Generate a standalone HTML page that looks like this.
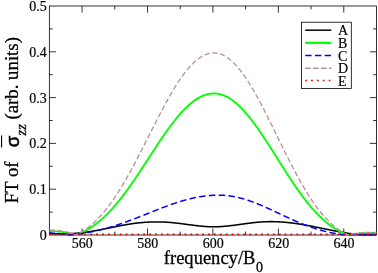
<!DOCTYPE html>
<html><head><meta charset="utf-8"><title>plot</title>
<style>html,body{margin:0;padding:0;background:#fff}svg{display:block}</style>
</head><body>
<svg width="378" height="273" viewBox="0 0 378 273">
<defs><filter id="bl" x="0" y="0" width="100%" height="100%" filterUnits="userSpaceOnUse"><feGaussianBlur stdDeviation="0.35"/></filter></defs>
<rect x="0" y="0" width="378" height="273" fill="#fff"/>
<g filter="url(#bl)">
<rect x="0" y="0" width="378" height="273" fill="#fff"/>
<path d="M82.06,235.00v-6.60M82.06,6.00v6.60M114.78,235.00v-3.40M114.78,6.00v3.40M147.50,235.00v-6.60M147.50,6.00v6.60M180.21,235.00v-3.40M180.21,6.00v3.40M212.92,235.00v-6.60M212.92,6.00v6.60M245.64,235.00v-3.40M245.64,6.00v3.40M278.35,235.00v-6.60M278.35,6.00v6.60M311.07,235.00v-3.40M311.07,6.00v3.40M343.79,235.00v-6.60M343.79,6.00v6.60M49.35,212.10h3.40M376.50,212.10h-3.40M49.35,189.20h6.60M376.50,189.20h-6.60M49.35,166.30h3.40M376.50,166.30h-3.40M49.35,143.40h6.60M376.50,143.40h-6.60M49.35,120.50h3.40M376.50,120.50h-3.40M49.35,97.60h6.60M376.50,97.60h-6.60M49.35,74.70h3.40M376.50,74.70h-3.40M49.35,51.80h6.60M376.50,51.80h-6.60M49.35,28.90h3.40M376.50,28.90h-3.40" fill="none" stroke="#000" stroke-width="0.8"/>
<rect x="49.35" y="6.00" width="327.15" height="229.00" fill="none" stroke="#000" stroke-width="0.8"/>
<clipPath id="c"><rect x="49.35" y="6.00" width="327.15" height="230.00"/></clipPath>
<g clip-path="url(#c)" fill="none" stroke-linejoin="round">
<path d="M49.35,233.46L49.76,233.49L50.17,233.52L50.58,233.54L50.99,233.57L51.39,233.59L51.80,233.61L52.21,233.63L52.62,233.65L53.03,233.67L53.44,233.69L53.85,233.71L54.26,233.73L54.67,233.74L55.08,233.76L55.48,233.77L55.89,233.79L56.30,233.80L56.71,233.81L57.12,233.82L57.53,233.83L57.94,233.84L58.35,233.84L58.76,233.85L59.16,233.86L59.57,233.86L59.98,233.86L60.39,233.87L60.80,233.87L61.21,233.87L61.62,233.87L62.03,233.87L62.44,233.86L62.84,233.86L63.25,233.86L63.66,233.85L64.07,233.84L64.48,233.84L64.89,233.83L65.30,233.82L65.71,233.81L66.12,233.80L66.53,233.79L66.93,233.77L67.34,233.76L67.75,233.75L68.16,233.73L68.57,233.71L68.98,233.70L69.39,233.68L69.80,233.66L70.21,233.64L70.61,233.62L71.02,233.60L71.43,233.57L71.84,233.55L72.25,233.52L72.66,233.50L73.07,233.47L73.48,233.44L73.89,233.41L74.30,233.39L74.70,233.36L75.11,233.32L75.52,233.29L75.93,233.26L76.34,233.22L76.75,233.19L77.16,233.15L77.57,233.12L77.98,233.08L78.38,233.04L78.79,233.00L79.20,232.96L79.61,232.92L80.02,232.88L80.43,232.83L80.84,232.79L81.25,232.75L81.66,232.70L82.06,232.65L82.47,232.61L82.88,232.56L83.29,232.51L83.70,232.46L84.11,232.41L84.52,232.36L84.93,232.30L85.34,232.25L85.75,232.19L86.15,232.14L86.56,232.08L86.97,232.02L87.38,231.97L87.79,231.91L88.20,231.85L88.61,231.79L89.02,231.73L89.43,231.66L89.83,231.60L90.24,231.54L90.65,231.47L91.06,231.41L91.47,231.34L91.88,231.27L92.29,231.20L92.70,231.13L93.11,231.07L93.52,231.00L93.92,230.92L94.33,230.85L94.74,230.78L95.15,230.71L95.56,230.64L95.97,230.56L96.38,230.49L96.79,230.41L97.20,230.34L97.60,230.26L98.01,230.18L98.42,230.11L98.83,230.03L99.24,229.95L99.65,229.87L100.06,229.79L100.47,229.71L100.88,229.64L101.29,229.56L101.69,229.48L102.10,229.39L102.51,229.31L102.92,229.23L103.33,229.15L103.74,229.07L104.15,228.99L104.56,228.90L104.97,228.82L105.37,228.74L105.78,228.66L106.19,228.57L106.60,228.49L107.01,228.41L107.42,228.32L107.83,228.24L108.24,228.16L108.65,228.07L109.05,227.99L109.46,227.90L109.87,227.82L110.28,227.74L110.69,227.65L111.10,227.57L111.51,227.49L111.92,227.40L112.33,227.32L112.74,227.23L113.14,227.15L113.55,227.07L113.96,226.99L114.37,226.90L114.78,226.82L115.19,226.74L115.60,226.65L116.01,226.57L116.42,226.49L116.82,226.41L117.23,226.33L117.64,226.25L118.05,226.17L118.46,226.09L118.87,226.01L119.28,225.93L119.69,225.85L120.10,225.77L120.51,225.69L120.91,225.61L121.32,225.53L121.73,225.46L122.14,225.38L122.55,225.31L122.96,225.23L123.37,225.15L123.78,225.08L124.19,225.01L124.59,224.93L125.00,224.86L125.41,224.79L125.82,224.72L126.23,224.65L126.64,224.58L127.05,224.51L127.46,224.44L127.87,224.37L128.27,224.30L128.68,224.24L129.09,224.17L129.50,224.11L129.91,224.04L130.32,223.98L130.73,223.92L131.14,223.85L131.55,223.79L131.96,223.73L132.36,223.67L132.77,223.62L133.18,223.56L133.59,223.50L134.00,223.45L134.41,223.39L134.82,223.34L135.23,223.29L135.64,223.24L136.04,223.19L136.45,223.14L136.86,223.09L137.27,223.04L137.68,222.99L138.09,222.95L138.50,222.90L138.91,222.86L139.32,222.82L139.73,222.78L140.13,222.74L140.54,222.70L140.95,222.66L141.36,222.62L141.77,222.58L142.18,222.55L142.59,222.51L143.00,222.48L143.41,222.44L143.81,222.41L144.22,222.38L144.63,222.35L145.04,222.32L145.45,222.29L145.86,222.27L146.27,222.24L146.68,222.22L147.09,222.19L147.50,222.17L147.90,222.15L148.31,222.13L148.72,222.11L149.13,222.09L149.54,222.07L149.95,222.05L150.36,222.03L150.77,222.02L151.18,222.01L151.58,221.99L151.99,221.98L152.40,221.97L152.81,221.96L153.22,221.95L153.63,221.94L154.04,221.93L154.45,221.93L154.86,221.92L155.26,221.92L155.67,221.91L156.08,221.91L156.49,221.91L156.90,221.91L157.31,221.91L157.72,221.91L158.13,221.92L158.54,221.92L158.95,221.92L159.35,221.93L159.76,221.94L160.17,221.95L160.58,221.95L160.99,221.96L161.40,221.98L161.81,221.99L162.22,222.00L162.63,222.01L163.03,222.03L163.44,222.05L163.85,222.06L164.26,222.08L164.67,222.10L165.08,222.12L165.49,222.14L165.90,222.16L166.31,222.19L166.72,222.21L167.12,222.24L167.53,222.26L167.94,222.29L168.35,222.32L168.76,222.35L169.17,222.38L169.58,222.41L169.99,222.44L170.40,222.48L170.80,222.51L171.21,222.55L171.62,222.58L172.03,222.62L172.44,222.66L172.85,222.70L173.26,222.74L173.67,222.78L174.08,222.82L174.48,222.86L174.89,222.91L175.30,222.95L175.71,223.00L176.12,223.04L176.53,223.09L176.94,223.14L177.35,223.18L177.76,223.23L178.17,223.28L178.57,223.33L178.98,223.38L179.39,223.43L179.80,223.48L180.21,223.53L180.62,223.58L181.03,223.63L181.44,223.69L181.85,223.74L182.25,223.79L182.66,223.85L183.07,223.90L183.48,223.95L183.89,224.01L184.30,224.06L184.71,224.11L185.12,224.17L185.53,224.22L185.94,224.28L186.34,224.33L186.75,224.39L187.16,224.44L187.57,224.50L187.98,224.55L188.39,224.61L188.80,224.66L189.21,224.72L189.62,224.77L190.02,224.82L190.43,224.88L190.84,224.93L191.25,224.98L191.66,225.04L192.07,225.09L192.48,225.14L192.89,225.19L193.30,225.25L193.70,225.30L194.11,225.35L194.52,225.40L194.93,225.45L195.34,225.50L195.75,225.55L196.16,225.60L196.57,225.64L196.98,225.69L197.39,225.74L197.79,225.78L198.20,225.83L198.61,225.87L199.02,225.92L199.43,225.96L199.84,226.00L200.25,226.05L200.66,226.09L201.07,226.13L201.47,226.17L201.88,226.20L202.29,226.24L202.70,226.28L203.11,226.31L203.52,226.35L203.93,226.38L204.34,226.41L204.75,226.44L205.16,226.47L205.56,226.50L205.97,226.53L206.38,226.56L206.79,226.58L207.20,226.61L207.61,226.63L208.02,226.65L208.43,226.67L208.84,226.69L209.24,226.71L209.65,226.72L210.06,226.74L210.47,226.75L210.88,226.76L211.29,226.77L211.70,226.78L212.11,226.79L212.52,226.80L212.92,226.80L213.33,226.80L213.74,226.80L214.15,226.80L214.56,226.80L214.97,226.80L215.38,226.79L215.79,226.78L216.20,226.77L216.61,226.76L217.01,226.75L217.42,226.74L217.83,226.72L218.24,226.71L218.65,226.69L219.06,226.67L219.47,226.65L219.88,226.63L220.29,226.61L220.69,226.58L221.10,226.56L221.51,226.53L221.92,226.50L222.33,226.47L222.74,226.44L223.15,226.41L223.56,226.38L223.97,226.34L224.38,226.31L224.78,226.27L225.19,226.24L225.60,226.20L226.01,226.16L226.42,226.12L226.83,226.08L227.24,226.04L227.65,226.00L228.06,225.95L228.46,225.91L228.87,225.87L229.28,225.82L229.69,225.77L230.10,225.73L230.51,225.68L230.92,225.63L231.33,225.58L231.74,225.53L232.15,225.48L232.55,225.43L232.96,225.38L233.37,225.33L233.78,225.28L234.19,225.22L234.60,225.17L235.01,225.12L235.42,225.06L235.83,225.01L236.23,224.95L236.64,224.90L237.05,224.84L237.46,224.79L237.87,224.73L238.28,224.68L238.69,224.62L239.10,224.56L239.51,224.51L239.91,224.45L240.32,224.39L240.73,224.34L241.14,224.28L241.55,224.22L241.96,224.16L242.37,224.11L242.78,224.05L243.19,223.99L243.60,223.94L244.00,223.88L244.41,223.83L244.82,223.77L245.23,223.71L245.64,223.66L246.05,223.60L246.46,223.55L246.87,223.49L247.28,223.44L247.68,223.38L248.09,223.33L248.50,223.28L248.91,223.22L249.32,223.17L249.73,223.12L250.14,223.07L250.55,223.02L250.96,222.97L251.37,222.92L251.77,222.87L252.18,222.82L252.59,222.77L253.00,222.72L253.41,222.68L253.82,222.63L254.23,222.58L254.64,222.54L255.05,222.50L255.45,222.45L255.86,222.41L256.27,222.37L256.68,222.33L257.09,222.29L257.50,222.25L257.91,222.22L258.32,222.18L258.73,222.14L259.13,222.11L259.54,222.08L259.95,222.05L260.36,222.01L260.77,221.98L261.18,221.96L261.59,221.93L262.00,221.90L262.41,221.88L262.82,221.85L263.22,221.83L263.63,221.81L264.04,221.79L264.45,221.77L264.86,221.75L265.27,221.74L265.68,221.72L266.09,221.71L266.50,221.70L266.90,221.68L267.31,221.67L267.72,221.66L268.13,221.66L268.54,221.65L268.95,221.64L269.36,221.64L269.77,221.64L270.18,221.63L270.59,221.63L270.99,221.63L271.40,221.63L271.81,221.64L272.22,221.64L272.63,221.64L273.04,221.65L273.45,221.66L273.86,221.66L274.27,221.67L274.67,221.68L275.08,221.69L275.49,221.70L275.90,221.72L276.31,221.73L276.72,221.75L277.13,221.76L277.54,221.78L277.95,221.80L278.35,221.82L278.76,221.84L279.17,221.86L279.58,221.88L279.99,221.90L280.40,221.93L280.81,221.95L281.22,221.98L281.63,222.01L282.04,222.04L282.44,222.06L282.85,222.09L283.26,222.13L283.67,222.16L284.08,222.19L284.49,222.22L284.90,222.26L285.31,222.29L285.72,222.33L286.12,222.37L286.53,222.41L286.94,222.45L287.35,222.49L287.76,222.53L288.17,222.57L288.58,222.61L288.99,222.66L289.40,222.70L289.81,222.75L290.21,222.79L290.62,222.84L291.03,222.89L291.44,222.94L291.85,222.99L292.26,223.04L292.67,223.09L293.08,223.14L293.49,223.19L293.89,223.25L294.30,223.30L294.71,223.35L295.12,223.41L295.53,223.47L295.94,223.53L296.35,223.58L296.76,223.64L297.17,223.70L297.58,223.76L297.98,223.82L298.39,223.89L298.80,223.95L299.21,224.01L299.62,224.08L300.03,224.14L300.44,224.21L300.85,224.27L301.26,224.34L301.66,224.41L302.07,224.48L302.48,224.54L302.89,224.61L303.30,224.68L303.71,224.75L304.12,224.82L304.53,224.90L304.94,224.97L305.34,225.04L305.75,225.11L306.16,225.19L306.57,225.26L306.98,225.34L307.39,225.41L307.80,225.49L308.21,225.56L308.62,225.64L309.03,225.72L309.43,225.79L309.84,225.87L310.25,225.95L310.66,226.03L311.07,226.11L311.48,226.19L311.89,226.26L312.30,226.34L312.71,226.42L313.11,226.51L313.52,226.59L313.93,226.67L314.34,226.75L314.75,226.83L315.16,226.91L315.57,226.99L315.98,227.08L316.39,227.16L316.80,227.24L317.20,227.32L317.61,227.41L318.02,227.49L318.43,227.57L318.84,227.66L319.25,227.74L319.66,227.82L320.07,227.91L320.48,227.99L320.88,228.08L321.29,228.16L321.70,228.24L322.11,228.33L322.52,228.41L322.93,228.50L323.34,228.58L323.75,228.67L324.16,228.75L324.56,228.83L324.97,228.92L325.38,229.00L325.79,229.09L326.20,229.17L326.61,229.26L327.02,229.34L327.43,229.42L327.84,229.51L328.25,229.59L328.65,229.67L329.06,229.76L329.47,229.84L329.88,229.92L330.29,230.01L330.70,230.09L331.11,230.17L331.52,230.25L331.93,230.34L332.33,230.42L332.74,230.50L333.15,230.58L333.56,230.66L333.97,230.74L334.38,230.82L334.79,230.90L335.20,230.98L335.61,231.06L336.02,231.14L336.42,231.22L336.83,231.30L337.24,231.37L337.65,231.45L338.06,231.53L338.47,231.61L338.88,231.68L339.29,231.76L339.70,231.83L340.10,231.91L340.51,231.98L340.92,232.06L341.33,232.13L341.74,232.20L342.15,232.27L342.56,232.35L342.97,232.42L343.38,232.49L343.79,232.56L344.19,232.63L344.60,232.70L345.01,232.76L345.42,232.83L345.83,232.90L346.24,232.96L346.65,233.03L347.06,233.10L347.47,233.16L347.87,233.22L348.28,233.28L348.69,233.35L349.10,233.41L349.51,233.47L349.92,233.53L350.33,233.59L350.74,233.64L351.15,233.70L351.55,233.76L351.96,233.81L352.37,233.86L352.78,233.92L353.19,233.97L353.60,234.02L354.01,234.07L354.42,234.12L354.83,234.17L355.24,234.21L355.64,234.26L356.05,234.30L356.46,234.35L356.87,234.39L357.28,234.43L357.69,234.47L358.10,234.51L358.51,234.55L358.92,234.59L359.32,234.62L359.73,234.66L360.14,234.69L360.55,234.72L360.96,234.75L361.37,234.78L361.78,234.81L362.19,234.82L362.60,234.82L363.01,234.82L363.41,234.82L363.82,234.82L364.23,234.82L364.64,234.82L365.05,234.82L365.46,234.82L365.87,234.82L366.28,234.82L366.69,234.82L367.09,234.82L367.50,234.82L367.91,234.82L368.32,234.82L368.73,234.82L369.14,234.82L369.55,234.82L369.96,234.82L370.37,234.82L370.77,234.82L371.18,234.82L371.59,234.82L372.00,234.82L372.41,234.82L372.82,234.82L373.23,234.82L373.64,234.82L374.05,234.82L374.46,234.82L374.86,234.82L375.27,234.82L375.68,234.82L376.09,234.82L376.50,234.82" stroke="#000" stroke-width="1.55"/>
<path d="M49.35,231.23L49.76,231.22L50.17,231.22L50.58,231.22L50.99,231.22L51.39,231.22L51.80,231.23L52.21,231.23L52.62,231.24L53.03,231.25L53.44,231.26L53.85,231.27L54.26,231.29L54.67,231.30L55.08,231.32L55.48,231.34L55.89,231.36L56.30,231.38L56.71,231.41L57.12,231.43L57.53,231.46L57.94,231.49L58.35,231.53L58.76,231.56L59.16,231.60L59.57,231.63L59.98,231.67L60.39,231.72L60.80,231.76L61.21,231.81L61.62,231.86L62.03,231.91L62.44,231.96L62.84,232.02L63.25,232.08L63.66,232.14L64.07,232.20L64.48,232.26L64.89,232.33L65.30,232.40L65.71,232.47L66.12,232.55L66.53,232.62L66.93,232.70L67.34,232.79L67.75,232.87L68.16,232.96L68.57,233.05L68.98,233.14L69.39,233.24L69.80,233.33L70.21,233.44L70.61,233.54L71.02,233.64L71.43,233.75L71.84,233.87L72.25,233.98L72.66,234.10L73.07,234.22L73.48,234.34L73.89,234.47L74.30,234.60L74.70,234.73L75.11,234.86L75.52,235.00L75.93,234.86L76.34,234.72L76.75,234.57L77.16,234.42L77.57,234.26L77.98,234.11L78.38,233.95L78.79,233.79L79.20,233.62L79.61,233.45L80.02,233.28L80.43,233.10L80.84,232.93L81.25,232.74L81.66,232.56L82.06,232.37L82.47,232.18L82.88,231.98L83.29,231.78L83.70,231.58L84.11,231.38L84.52,231.17L84.93,230.96L85.34,230.74L85.75,230.52L86.15,230.30L86.56,230.07L86.97,229.84L87.38,229.61L87.79,229.37L88.20,229.13L88.61,228.89L89.02,228.64L89.43,228.39L89.83,228.14L90.24,227.88L90.65,227.62L91.06,227.35L91.47,227.09L91.88,226.81L92.29,226.54L92.70,226.26L93.11,225.98L93.52,225.69L93.92,225.40L94.33,225.11L94.74,224.81L95.15,224.51L95.56,224.20L95.97,223.89L96.38,223.58L96.79,223.27L97.20,222.95L97.60,222.62L98.01,222.30L98.42,221.97L98.83,221.63L99.24,221.29L99.65,220.95L100.06,220.61L100.47,220.26L100.88,219.91L101.29,219.55L101.69,219.19L102.10,218.83L102.51,218.46L102.92,218.09L103.33,217.72L103.74,217.34L104.15,216.96L104.56,216.57L104.97,216.18L105.37,215.79L105.78,215.39L106.19,214.99L106.60,214.59L107.01,214.18L107.42,213.77L107.83,213.36L108.24,212.94L108.65,212.52L109.05,212.09L109.46,211.67L109.87,211.24L110.28,210.80L110.69,210.36L111.10,209.92L111.51,209.47L111.92,209.03L112.33,208.57L112.74,208.12L113.14,207.66L113.55,207.20L113.96,206.73L114.37,206.26L114.78,205.79L115.19,205.31L115.60,204.83L116.01,204.35L116.42,203.87L116.82,203.38L117.23,202.89L117.64,202.39L118.05,201.89L118.46,201.39L118.87,200.89L119.28,200.38L119.69,199.87L120.10,199.36L120.51,198.84L120.91,198.32L121.32,197.80L121.73,197.28L122.14,196.75L122.55,196.22L122.96,195.68L123.37,195.15L123.78,194.61L124.19,194.07L124.59,193.52L125.00,192.98L125.41,192.43L125.82,191.87L126.23,191.32L126.64,190.76L127.05,190.20L127.46,189.64L127.87,189.08L128.27,188.51L128.68,187.94L129.09,187.37L129.50,186.80L129.91,186.22L130.32,185.64L130.73,185.06L131.14,184.48L131.55,183.89L131.96,183.31L132.36,182.72L132.77,182.13L133.18,181.54L133.59,180.94L134.00,180.35L134.41,179.75L134.82,179.15L135.23,178.55L135.64,177.95L136.04,177.34L136.45,176.74L136.86,176.13L137.27,175.52L137.68,174.91L138.09,174.30L138.50,173.68L138.91,173.07L139.32,172.45L139.73,171.84L140.13,171.22L140.54,170.60L140.95,169.98L141.36,169.36L141.77,168.74L142.18,168.12L142.59,167.49L143.00,166.87L143.41,166.24L143.81,165.62L144.22,164.99L144.63,164.36L145.04,163.74L145.45,163.11L145.86,162.48L146.27,161.85L146.68,161.22L147.09,160.59L147.50,159.96L147.90,159.33L148.31,158.70L148.72,158.07L149.13,157.44L149.54,156.81L149.95,156.19L150.36,155.56L150.77,154.93L151.18,154.30L151.58,153.67L151.99,153.04L152.40,152.41L152.81,151.79L153.22,151.16L153.63,150.53L154.04,149.91L154.45,149.28L154.86,148.66L155.26,148.03L155.67,147.41L156.08,146.79L156.49,146.17L156.90,145.55L157.31,144.93L157.72,144.32L158.13,143.70L158.54,143.09L158.95,142.47L159.35,141.86L159.76,141.25L160.17,140.64L160.58,140.03L160.99,139.43L161.40,138.82L161.81,138.22L162.22,137.62L162.63,137.02L163.03,136.43L163.44,135.83L163.85,135.24L164.26,134.65L164.67,134.06L165.08,133.48L165.49,132.89L165.90,132.31L166.31,131.73L166.72,131.15L167.12,130.58L167.53,130.01L167.94,129.44L168.35,128.87L168.76,128.31L169.17,127.75L169.58,127.19L169.99,126.63L170.40,126.08L170.80,125.53L171.21,124.99L171.62,124.44L172.03,123.90L172.44,123.37L172.85,122.83L173.26,122.30L173.67,121.77L174.08,121.25L174.48,120.73L174.89,120.21L175.30,119.70L175.71,119.19L176.12,118.69L176.53,118.18L176.94,117.69L177.35,117.19L177.76,116.70L178.17,116.21L178.57,115.73L178.98,115.25L179.39,114.78L179.80,114.31L180.21,113.84L180.62,113.38L181.03,112.92L181.44,112.47L181.85,112.02L182.25,111.57L182.66,111.13L183.07,110.70L183.48,110.27L183.89,109.84L184.30,109.42L184.71,109.00L185.12,108.59L185.53,108.18L185.94,107.78L186.34,107.38L186.75,106.99L187.16,106.60L187.57,106.22L187.98,105.84L188.39,105.46L188.80,105.10L189.21,104.73L189.62,104.37L190.02,104.02L190.43,103.67L190.84,103.33L191.25,103.00L191.66,102.66L192.07,102.34L192.48,102.02L192.89,101.70L193.30,101.39L193.70,101.09L194.11,100.79L194.52,100.50L194.93,100.21L195.34,99.93L195.75,99.65L196.16,99.38L196.57,99.12L196.98,98.86L197.39,98.61L197.79,98.36L198.20,98.12L198.61,97.88L199.02,97.65L199.43,97.43L199.84,97.21L200.25,97.00L200.66,96.79L201.07,96.59L201.47,96.40L201.88,96.21L202.29,96.03L202.70,95.86L203.11,95.69L203.52,95.52L203.93,95.37L204.34,95.22L204.75,95.07L205.16,94.93L205.56,94.80L205.97,94.67L206.38,94.55L206.79,94.44L207.20,94.33L207.61,94.23L208.02,94.14L208.43,94.05L208.84,93.97L209.24,93.89L209.65,93.82L210.06,93.76L210.47,93.70L210.88,93.65L211.29,93.61L211.70,93.57L212.11,93.54L212.52,93.51L212.92,93.50L213.33,93.48L213.74,93.48L214.15,93.48L214.56,93.49L214.97,93.50L215.38,93.52L215.79,93.55L216.20,93.58L216.61,93.63L217.01,93.67L217.42,93.73L217.83,93.79L218.24,93.86L218.65,93.93L219.06,94.02L219.47,94.10L219.88,94.20L220.29,94.30L220.69,94.41L221.10,94.53L221.51,94.65L221.92,94.78L222.33,94.91L222.74,95.05L223.15,95.20L223.56,95.36L223.97,95.52L224.38,95.69L224.78,95.86L225.19,96.04L225.60,96.23L226.01,96.43L226.42,96.63L226.83,96.83L227.24,97.05L227.65,97.27L228.06,97.49L228.46,97.73L228.87,97.97L229.28,98.21L229.69,98.46L230.10,98.72L230.51,98.98L230.92,99.25L231.33,99.53L231.74,99.81L232.15,100.10L232.55,100.39L232.96,100.70L233.37,101.00L233.78,101.31L234.19,101.63L234.60,101.96L235.01,102.29L235.42,102.62L235.83,102.96L236.23,103.31L236.64,103.66L237.05,104.02L237.46,104.38L237.87,104.75L238.28,105.13L238.69,105.51L239.10,105.89L239.51,106.29L239.91,106.68L240.32,107.08L240.73,107.49L241.14,107.90L241.55,108.32L241.96,108.74L242.37,109.17L242.78,109.60L243.19,110.04L243.60,110.48L244.00,110.93L244.41,111.38L244.82,111.84L245.23,112.30L245.64,112.77L246.05,113.24L246.46,113.71L246.87,114.19L247.28,114.68L247.68,115.17L248.09,115.66L248.50,116.16L248.91,116.66L249.32,117.16L249.73,117.67L250.14,118.19L250.55,118.71L250.96,119.23L251.37,119.75L251.77,120.28L252.18,120.82L252.59,121.35L253.00,121.90L253.41,122.44L253.82,122.99L254.23,123.54L254.64,124.10L255.05,124.65L255.45,125.22L255.86,125.78L256.27,126.35L256.68,126.92L257.09,127.49L257.50,128.07L257.91,128.65L258.32,129.24L258.73,129.82L259.13,130.41L259.54,131.00L259.95,131.60L260.36,132.19L260.77,132.79L261.18,133.40L261.59,134.00L262.00,134.61L262.41,135.22L262.82,135.83L263.22,136.44L263.63,137.06L264.04,137.67L264.45,138.29L264.86,138.92L265.27,139.54L265.68,140.16L266.09,140.79L266.50,141.42L266.90,142.05L267.31,142.68L267.72,143.31L268.13,143.95L268.54,144.58L268.95,145.22L269.36,145.86L269.77,146.50L270.18,147.14L270.59,147.78L270.99,148.42L271.40,149.07L271.81,149.71L272.22,150.36L272.63,151.00L273.04,151.65L273.45,152.30L273.86,152.95L274.27,153.59L274.67,154.24L275.08,154.89L275.49,155.54L275.90,156.19L276.31,156.84L276.72,157.49L277.13,158.14L277.54,158.79L277.95,159.44L278.35,160.09L278.76,160.74L279.17,161.39L279.58,162.04L279.99,162.68L280.40,163.33L280.81,163.98L281.22,164.63L281.63,165.27L282.04,165.92L282.44,166.56L282.85,167.21L283.26,167.85L283.67,168.50L284.08,169.14L284.49,169.78L284.90,170.42L285.31,171.06L285.72,171.69L286.12,172.33L286.53,172.97L286.94,173.60L287.35,174.23L287.76,174.86L288.17,175.49L288.58,176.12L288.99,176.75L289.40,177.37L289.81,178.00L290.21,178.62L290.62,179.24L291.03,179.86L291.44,180.47L291.85,181.09L292.26,181.70L292.67,182.31L293.08,182.92L293.49,183.52L293.89,184.13L294.30,184.73L294.71,185.33L295.12,185.93L295.53,186.52L295.94,187.12L296.35,187.71L296.76,188.30L297.17,188.88L297.58,189.46L297.98,190.05L298.39,190.62L298.80,191.20L299.21,191.77L299.62,192.34L300.03,192.91L300.44,193.47L300.85,194.04L301.26,194.59L301.66,195.15L302.07,195.70L302.48,196.25L302.89,196.80L303.30,197.34L303.71,197.89L304.12,198.42L304.53,198.96L304.94,199.49L305.34,200.02L305.75,200.54L306.16,201.07L306.57,201.59L306.98,202.10L307.39,202.61L307.80,203.12L308.21,203.63L308.62,204.13L309.03,204.63L309.43,205.12L309.84,205.62L310.25,206.11L310.66,206.59L311.07,207.07L311.48,207.55L311.89,208.02L312.30,208.50L312.71,208.96L313.11,209.43L313.52,209.89L313.93,210.34L314.34,210.79L314.75,211.24L315.16,211.69L315.57,212.13L315.98,212.57L316.39,213.00L316.80,213.43L317.20,213.86L317.61,214.28L318.02,214.70L318.43,215.11L318.84,215.53L319.25,215.93L319.66,216.34L320.07,216.74L320.48,217.13L320.88,217.52L321.29,217.91L321.70,218.30L322.11,218.68L322.52,219.05L322.93,219.43L323.34,219.79L323.75,220.16L324.16,220.52L324.56,220.88L324.97,221.23L325.38,221.58L325.79,221.92L326.20,222.27L326.61,222.60L327.02,222.94L327.43,223.27L327.84,223.59L328.25,223.91L328.65,224.23L329.06,224.55L329.47,224.86L329.88,225.16L330.29,225.46L330.70,225.76L331.11,226.06L331.52,226.35L331.93,226.64L332.33,226.92L332.74,227.20L333.15,227.47L333.56,227.74L333.97,228.01L334.38,228.28L334.79,228.54L335.20,228.79L335.61,229.05L336.02,229.29L336.42,229.54L336.83,229.78L337.24,230.02L337.65,230.25L338.06,230.48L338.47,230.71L338.88,230.93L339.29,231.15L339.70,231.37L340.10,231.58L340.51,231.79L340.92,231.99L341.33,232.19L341.74,232.39L342.15,232.58L342.56,232.78L342.97,232.96L343.38,233.15L343.79,233.33L344.19,233.50L344.60,233.68L345.01,233.85L345.42,234.01L345.83,234.18L346.24,234.34L346.65,234.49L347.06,234.65L347.47,234.80L347.87,234.94L348.28,234.95L348.69,234.88L349.10,234.80L349.51,234.73L349.92,234.65L350.33,234.58L350.74,234.52L351.15,234.45L351.55,234.38L351.96,234.32L352.37,234.26L352.78,234.20L353.19,234.14L353.60,234.08L354.01,234.03L354.42,233.97L354.83,233.92L355.24,233.87L355.64,233.82L356.05,233.77L356.46,233.73L356.87,233.68L357.28,233.64L357.69,233.60L358.10,233.56L358.51,233.52L358.92,233.48L359.32,233.44L359.73,233.41L360.14,233.37L360.55,233.34L360.96,233.31L361.37,233.28L361.78,233.25L362.19,233.23L362.60,233.20L363.01,233.18L363.41,233.15L363.82,233.13L364.23,233.11L364.64,233.09L365.05,233.07L365.46,233.06L365.87,233.04L366.28,233.02L366.69,233.01L367.09,233.00L367.50,232.99L367.91,232.97L368.32,232.96L368.73,232.96L369.14,232.95L369.55,232.94L369.96,232.94L370.37,232.93L370.77,232.93L371.18,232.92L371.59,232.92L372.00,232.92L372.41,232.92L372.82,232.92L373.23,232.92L373.64,232.93L374.05,232.93L374.46,232.93L374.86,232.94L375.27,232.94L375.68,232.95L376.09,232.96L376.50,232.96" stroke="#00ff00" stroke-width="1.85"/>
<path d="M49.35,233.00L49.76,233.02L50.17,233.03L50.58,233.05L50.99,233.07L51.39,233.09L51.80,233.11L52.21,233.13L52.62,233.15L53.03,233.18L53.44,233.20L53.85,233.23L54.26,233.25L54.67,233.28L55.08,233.31L55.48,233.34L55.89,233.37L56.30,233.40L56.71,233.43L57.12,233.47L57.53,233.50L57.94,233.54L58.35,233.58L58.76,233.62L59.16,233.66L59.57,233.70L59.98,233.74L60.39,233.78L60.80,233.83L61.21,233.87L61.62,233.92L62.03,233.97L62.44,234.02L62.84,234.07L63.25,234.12L63.66,234.18L64.07,234.23L64.48,234.29L64.89,234.35L65.30,234.41L65.71,234.47L66.12,234.53L66.53,234.59L66.93,234.66L67.34,234.72L67.75,234.79L68.16,234.86L68.57,234.93L68.98,235.00L69.39,234.96L69.80,234.93L70.21,234.89L70.61,234.85L71.02,234.81L71.43,234.77L71.84,234.73L72.25,234.69L72.66,234.64L73.07,234.60L73.48,234.56L73.89,234.51L74.30,234.47L74.70,234.42L75.11,234.37L75.52,234.32L75.93,234.28L76.34,234.23L76.75,234.18L77.16,234.12L77.57,234.07L77.98,234.02L78.38,233.97L78.79,233.91L79.20,233.86L79.61,233.80L80.02,233.74L80.43,233.69L80.84,233.63L81.25,233.57L81.66,233.51L82.06,233.45L82.47,233.38L82.88,233.32L83.29,233.26L83.70,233.19L84.11,233.13L84.52,233.06L84.93,232.99L85.34,232.93L85.75,232.86L86.15,232.79L86.56,232.72L86.97,232.65L87.38,232.57L87.79,232.50L88.20,232.43L88.61,232.35L89.02,232.28L89.43,232.20L89.83,232.12L90.24,232.04L90.65,231.96L91.06,231.88L91.47,231.80L91.88,231.72L92.29,231.64L92.70,231.55L93.11,231.47L93.52,231.38L93.92,231.30L94.33,231.21L94.74,231.12L95.15,231.03L95.56,230.94L95.97,230.85L96.38,230.76L96.79,230.67L97.20,230.58L97.60,230.48L98.01,230.39L98.42,230.29L98.83,230.19L99.24,230.10L99.65,230.00L100.06,229.90L100.47,229.80L100.88,229.70L101.29,229.60L101.69,229.49L102.10,229.39L102.51,229.28L102.92,229.18L103.33,229.07L103.74,228.96L104.15,228.86L104.56,228.75L104.97,228.64L105.37,228.53L105.78,228.42L106.19,228.30L106.60,228.19L107.01,228.08L107.42,227.96L107.83,227.85L108.24,227.73L108.65,227.61L109.05,227.49L109.46,227.37L109.87,227.26L110.28,227.13L110.69,227.01L111.10,226.89L111.51,226.77L111.92,226.64L112.33,226.52L112.74,226.39L113.14,226.27L113.55,226.14L113.96,226.01L114.37,225.89L114.78,225.76L115.19,225.63L115.60,225.50L116.01,225.37L116.42,225.23L116.82,225.10L117.23,224.97L117.64,224.83L118.05,224.70L118.46,224.56L118.87,224.43L119.28,224.29L119.69,224.15L120.10,224.01L120.51,223.87L120.91,223.73L121.32,223.59L121.73,223.45L122.14,223.31L122.55,223.17L122.96,223.03L123.37,222.88L123.78,222.74L124.19,222.59L124.59,222.45L125.00,222.30L125.41,222.16L125.82,222.01L126.23,221.86L126.64,221.71L127.05,221.57L127.46,221.42L127.87,221.27L128.27,221.12L128.68,220.97L129.09,220.81L129.50,220.66L129.91,220.51L130.32,220.36L130.73,220.20L131.14,220.05L131.55,219.90L131.96,219.74L132.36,219.59L132.77,219.43L133.18,219.27L133.59,219.12L134.00,218.96L134.41,218.80L134.82,218.65L135.23,218.49L135.64,218.33L136.04,218.17L136.45,218.01L136.86,217.85L137.27,217.70L137.68,217.54L138.09,217.38L138.50,217.22L138.91,217.05L139.32,216.89L139.73,216.73L140.13,216.57L140.54,216.41L140.95,216.25L141.36,216.09L141.77,215.92L142.18,215.76L142.59,215.60L143.00,215.44L143.41,215.27L143.81,215.11L144.22,214.95L144.63,214.78L145.04,214.62L145.45,214.46L145.86,214.29L146.27,214.13L146.68,213.97L147.09,213.80L147.50,213.64L147.90,213.47L148.31,213.31L148.72,213.15L149.13,212.98L149.54,212.82L149.95,212.66L150.36,212.49L150.77,212.33L151.18,212.16L151.58,212.00L151.99,211.84L152.40,211.67L152.81,211.51L153.22,211.35L153.63,211.19L154.04,211.02L154.45,210.86L154.86,210.70L155.26,210.54L155.67,210.37L156.08,210.21L156.49,210.05L156.90,209.89L157.31,209.73L157.72,209.57L158.13,209.41L158.54,209.25L158.95,209.09L159.35,208.93L159.76,208.77L160.17,208.61L160.58,208.45L160.99,208.30L161.40,208.14L161.81,207.98L162.22,207.82L162.63,207.67L163.03,207.51L163.44,207.36L163.85,207.20L164.26,207.05L164.67,206.89L165.08,206.74L165.49,206.59L165.90,206.43L166.31,206.28L166.72,206.13L167.12,205.98L167.53,205.83L167.94,205.68L168.35,205.53L168.76,205.38L169.17,205.23L169.58,205.09L169.99,204.94L170.40,204.80L170.80,204.65L171.21,204.51L171.62,204.36L172.03,204.22L172.44,204.08L172.85,203.93L173.26,203.79L173.67,203.65L174.08,203.51L174.48,203.38L174.89,203.24L175.30,203.10L175.71,202.97L176.12,202.83L176.53,202.70L176.94,202.56L177.35,202.43L177.76,202.30L178.17,202.17L178.57,202.04L178.98,201.91L179.39,201.78L179.80,201.65L180.21,201.53L180.62,201.40L181.03,201.28L181.44,201.15L181.85,201.03L182.25,200.91L182.66,200.79L183.07,200.67L183.48,200.55L183.89,200.43L184.30,200.32L184.71,200.20L185.12,200.09L185.53,199.98L185.94,199.86L186.34,199.75L186.75,199.64L187.16,199.53L187.57,199.43L187.98,199.32L188.39,199.22L188.80,199.11L189.21,199.01L189.62,198.91L190.02,198.81L190.43,198.71L190.84,198.61L191.25,198.51L191.66,198.42L192.07,198.32L192.48,198.23L192.89,198.14L193.30,198.05L193.70,197.96L194.11,197.87L194.52,197.78L194.93,197.70L195.34,197.61L195.75,197.53L196.16,197.45L196.57,197.37L196.98,197.29L197.39,197.21L197.79,197.14L198.20,197.06L198.61,196.99L199.02,196.92L199.43,196.84L199.84,196.78L200.25,196.71L200.66,196.64L201.07,196.58L201.47,196.51L201.88,196.45L202.29,196.39L202.70,196.33L203.11,196.27L203.52,196.21L203.93,196.16L204.34,196.10L204.75,196.05L205.16,196.00L205.56,195.95L205.97,195.90L206.38,195.86L206.79,195.81L207.20,195.77L207.61,195.73L208.02,195.68L208.43,195.65L208.84,195.61L209.24,195.57L209.65,195.54L210.06,195.50L210.47,195.47L210.88,195.44L211.29,195.41L211.70,195.39L212.11,195.36L212.52,195.34L212.92,195.31L213.33,195.29L213.74,195.27L214.15,195.25L214.56,195.24L214.97,195.22L215.38,195.21L215.79,195.20L216.20,195.19L216.61,195.18L217.01,195.17L217.42,195.16L217.83,195.16L218.24,195.16L218.65,195.15L219.06,195.15L219.47,195.16L219.88,195.16L220.29,195.17L220.69,195.18L221.10,195.19L221.51,195.20L221.92,195.22L222.33,195.23L222.74,195.25L223.15,195.27L223.56,195.30L223.97,195.32L224.38,195.35L224.78,195.38L225.19,195.41L225.60,195.45L226.01,195.48L226.42,195.52L226.83,195.56L227.24,195.60L227.65,195.65L228.06,195.69L228.46,195.74L228.87,195.79L229.28,195.84L229.69,195.90L230.10,195.96L230.51,196.01L230.92,196.08L231.33,196.14L231.74,196.20L232.15,196.27L232.55,196.34L232.96,196.41L233.37,196.48L233.78,196.56L234.19,196.63L234.60,196.71L235.01,196.79L235.42,196.87L235.83,196.96L236.23,197.04L236.64,197.13L237.05,197.22L237.46,197.31L237.87,197.41L238.28,197.50L238.69,197.60L239.10,197.70L239.51,197.80L239.91,197.90L240.32,198.01L240.73,198.11L241.14,198.22L241.55,198.33L241.96,198.44L242.37,198.55L242.78,198.67L243.19,198.78L243.60,198.90L244.00,199.02L244.41,199.14L244.82,199.27L245.23,199.39L245.64,199.52L246.05,199.64L246.46,199.77L246.87,199.90L247.28,200.04L247.68,200.17L248.09,200.31L248.50,200.44L248.91,200.58L249.32,200.72L249.73,200.86L250.14,201.00L250.55,201.15L250.96,201.29L251.37,201.44L251.77,201.59L252.18,201.74L252.59,201.89L253.00,202.04L253.41,202.19L253.82,202.35L254.23,202.50L254.64,202.66L255.05,202.82L255.45,202.98L255.86,203.14L256.27,203.30L256.68,203.46L257.09,203.63L257.50,203.79L257.91,203.96L258.32,204.12L258.73,204.29L259.13,204.46L259.54,204.63L259.95,204.80L260.36,204.97L260.77,205.15L261.18,205.32L261.59,205.49L262.00,205.67L262.41,205.85L262.82,206.02L263.22,206.20L263.63,206.38L264.04,206.56L264.45,206.74L264.86,206.92L265.27,207.10L265.68,207.28L266.09,207.47L266.50,207.65L266.90,207.83L267.31,208.02L267.72,208.20L268.13,208.39L268.54,208.57L268.95,208.76L269.36,208.95L269.77,209.14L270.18,209.32L270.59,209.51L270.99,209.70L271.40,209.89L271.81,210.08L272.22,210.27L272.63,210.46L273.04,210.65L273.45,210.84L273.86,211.04L274.27,211.23L274.67,211.42L275.08,211.61L275.49,211.80L275.90,212.00L276.31,212.19L276.72,212.38L277.13,212.57L277.54,212.77L277.95,212.96L278.35,213.15L278.76,213.34L279.17,213.54L279.58,213.73L279.99,213.92L280.40,214.11L280.81,214.31L281.22,214.50L281.63,214.69L282.04,214.88L282.44,215.08L282.85,215.27L283.26,215.46L283.67,215.65L284.08,215.84L284.49,216.03L284.90,216.23L285.31,216.42L285.72,216.61L286.12,216.80L286.53,216.99L286.94,217.18L287.35,217.36L287.76,217.55L288.17,217.74L288.58,217.93L288.99,218.12L289.40,218.30L289.81,218.49L290.21,218.67L290.62,218.86L291.03,219.04L291.44,219.23L291.85,219.41L292.26,219.59L292.67,219.78L293.08,219.96L293.49,220.14L293.89,220.32L294.30,220.50L294.71,220.68L295.12,220.86L295.53,221.04L295.94,221.21L296.35,221.39L296.76,221.57L297.17,221.74L297.58,221.92L297.98,222.09L298.39,222.26L298.80,222.43L299.21,222.61L299.62,222.78L300.03,222.94L300.44,223.11L300.85,223.28L301.26,223.45L301.66,223.61L302.07,223.78L302.48,223.94L302.89,224.11L303.30,224.27L303.71,224.43L304.12,224.59L304.53,224.75L304.94,224.91L305.34,225.07L305.75,225.22L306.16,225.38L306.57,225.53L306.98,225.68L307.39,225.84L307.80,225.99L308.21,226.14L308.62,226.29L309.03,226.44L309.43,226.58L309.84,226.73L310.25,226.87L310.66,227.02L311.07,227.16L311.48,227.30L311.89,227.44L312.30,227.58L312.71,227.72L313.11,227.86L313.52,227.99L313.93,228.13L314.34,228.26L314.75,228.39L315.16,228.53L315.57,228.66L315.98,228.79L316.39,228.91L316.80,229.04L317.20,229.17L317.61,229.29L318.02,229.41L318.43,229.53L318.84,229.66L319.25,229.77L319.66,229.89L320.07,230.01L320.48,230.13L320.88,230.24L321.29,230.35L321.70,230.47L322.11,230.58L322.52,230.69L322.93,230.80L323.34,230.90L323.75,231.01L324.16,231.11L324.56,231.22L324.97,231.32L325.38,231.42L325.79,231.52L326.20,231.62L326.61,231.72L327.02,231.81L327.43,231.91L327.84,232.00L328.25,232.10L328.65,232.19L329.06,232.28L329.47,232.37L329.88,232.45L330.29,232.54L330.70,232.63L331.11,232.71L331.52,232.79L331.93,232.88L332.33,232.96L332.74,233.04L333.15,233.11L333.56,233.19L333.97,233.27L334.38,233.34L334.79,233.42L335.20,233.49L335.61,233.56L336.02,233.63L336.42,233.70L336.83,233.77L337.24,233.83L337.65,233.90L338.06,233.96L338.47,234.02L338.88,234.09L339.29,234.15L339.70,234.21L340.10,234.27L340.51,234.32L340.92,234.38L341.33,234.44L341.74,234.49L342.15,234.54L342.56,234.59L342.97,234.65L343.38,234.70L343.79,234.75L344.19,234.79L344.60,234.84L345.01,234.89L345.42,234.93L345.83,234.97L346.24,234.99L346.65,234.97L347.06,234.95L347.47,234.92L347.87,234.90L348.28,234.88L348.69,234.86L349.10,234.84L349.51,234.82L349.92,234.80L350.33,234.78L350.74,234.77L351.15,234.75L351.55,234.73L351.96,234.72L352.37,234.70L352.78,234.69L353.19,234.67L353.60,234.66L354.01,234.64L354.42,234.63L354.83,234.62L355.24,234.60L355.64,234.59L356.05,234.58L356.46,234.57L356.87,234.56L357.28,234.55L357.69,234.54L358.10,234.53L358.51,234.52L358.92,234.51L359.32,234.50L359.73,234.50L360.14,234.49L360.55,234.48L360.96,234.48L361.37,234.47L361.78,234.46L362.19,234.46L362.60,234.45L363.01,234.45L363.41,234.44L363.82,234.44L364.23,234.44L364.64,234.43L365.05,234.43L365.46,234.43L365.87,234.42L366.28,234.42L366.69,234.42L367.09,234.42L367.50,234.42L367.91,234.42L368.32,234.42L368.73,234.41L369.14,234.41L369.55,234.41L369.96,234.42L370.37,234.42L370.77,234.42L371.18,234.42L371.59,234.42L372.00,234.42L372.41,234.42L372.82,234.43L373.23,234.43L373.64,234.43L374.05,234.43L374.46,234.44L374.86,234.44L375.27,234.44L375.68,234.45L376.09,234.45L376.50,234.45" stroke="#0000ff" stroke-width="1.5" stroke-dasharray="6.5 3.3" stroke-dashoffset="0.9"/>
<path d="M49.35,230.14L49.76,230.14L50.17,230.14L50.58,230.14L50.99,230.14L51.39,230.14L51.80,230.15L52.21,230.16L52.62,230.16L53.03,230.18L53.44,230.19L53.85,230.21L54.26,230.22L54.67,230.24L55.08,230.27L55.48,230.29L55.89,230.32L56.30,230.35L56.71,230.38L57.12,230.41L57.53,230.45L57.94,230.49L58.35,230.53L58.76,230.57L59.16,230.62L59.57,230.67L59.98,230.72L60.39,230.78L60.80,230.83L61.21,230.89L61.62,230.96L62.03,231.02L62.44,231.09L62.84,231.16L63.25,231.24L63.66,231.32L64.07,231.40L64.48,231.48L64.89,231.57L65.30,231.66L65.71,231.75L66.12,231.85L66.53,231.94L66.93,232.05L67.34,232.15L67.75,232.26L68.16,232.37L68.57,232.49L68.98,232.61L69.39,232.73L69.80,232.86L70.21,232.99L70.61,233.12L71.02,233.26L71.43,233.40L71.84,233.54L72.25,233.69L72.66,233.84L73.07,233.99L73.48,234.15L73.89,234.31L74.30,234.48L74.70,234.65L75.11,234.82L75.52,235.00L75.93,234.82L76.34,234.63L76.75,234.44L77.16,234.25L77.57,234.05L77.98,233.85L78.38,233.65L78.79,233.44L79.20,233.23L79.61,233.01L80.02,232.79L80.43,232.56L80.84,232.33L81.25,232.10L81.66,231.86L82.06,231.62L82.47,231.37L82.88,231.12L83.29,230.86L83.70,230.60L84.11,230.34L84.52,230.07L84.93,229.80L85.34,229.52L85.75,229.24L86.15,228.95L86.56,228.66L86.97,228.37L87.38,228.07L87.79,227.76L88.20,227.45L88.61,227.14L89.02,226.82L89.43,226.50L89.83,226.17L90.24,225.84L90.65,225.51L91.06,225.16L91.47,224.82L91.88,224.47L92.29,224.12L92.70,223.76L93.11,223.39L93.52,223.02L93.92,222.65L94.33,222.27L94.74,221.89L95.15,221.50L95.56,221.11L95.97,220.71L96.38,220.31L96.79,219.91L97.20,219.49L97.60,219.08L98.01,218.66L98.42,218.23L98.83,217.80L99.24,217.37L99.65,216.93L100.06,216.49L100.47,216.04L100.88,215.58L101.29,215.13L101.69,214.66L102.10,214.20L102.51,213.72L102.92,213.25L103.33,212.76L103.74,212.28L104.15,211.79L104.56,211.29L104.97,210.79L105.37,210.29L105.78,209.78L106.19,209.26L106.60,208.74L107.01,208.22L107.42,207.69L107.83,207.16L108.24,206.62L108.65,206.08L109.05,205.53L109.46,204.98L109.87,204.43L110.28,203.87L110.69,203.30L111.10,202.74L111.51,202.16L111.92,201.59L112.33,201.00L112.74,200.42L113.14,199.83L113.55,199.23L113.96,198.63L114.37,198.03L114.78,197.42L115.19,196.81L115.60,196.19L116.01,195.57L116.42,194.95L116.82,194.32L117.23,193.69L117.64,193.05L118.05,192.41L118.46,191.77L118.87,191.12L119.28,190.47L119.69,189.81L120.10,189.15L120.51,188.49L120.91,187.82L121.32,187.15L121.73,186.47L122.14,185.79L122.55,185.11L122.96,184.42L123.37,183.73L123.78,183.04L124.19,182.34L124.59,181.64L125.00,180.94L125.41,180.23L125.82,179.52L126.23,178.81L126.64,178.09L127.05,177.37L127.46,176.65L127.87,175.92L128.27,175.19L128.68,174.46L129.09,173.73L129.50,172.99L129.91,172.25L130.32,171.50L130.73,170.76L131.14,170.01L131.55,169.26L131.96,168.50L132.36,167.75L132.77,166.99L133.18,166.22L133.59,165.46L134.00,164.69L134.41,163.92L134.82,163.15L135.23,162.38L135.64,161.60L136.04,160.83L136.45,160.05L136.86,159.27L137.27,158.48L137.68,157.70L138.09,156.91L138.50,156.12L138.91,155.33L139.32,154.54L139.73,153.75L140.13,152.95L140.54,152.16L140.95,151.36L141.36,150.56L141.77,149.76L142.18,148.96L142.59,148.16L143.00,147.36L143.41,146.55L143.81,145.75L144.22,144.94L144.63,144.13L145.04,143.33L145.45,142.52L145.86,141.71L146.27,140.90L146.68,140.09L147.09,139.28L147.50,138.47L147.90,137.66L148.31,136.85L148.72,136.04L149.13,135.23L149.54,134.42L149.95,133.61L150.36,132.80L150.77,131.99L151.18,131.18L151.58,130.37L151.99,129.57L152.40,128.76L152.81,127.95L153.22,127.15L153.63,126.34L154.04,125.54L154.45,124.73L154.86,123.93L155.26,123.13L155.67,122.33L156.08,121.53L156.49,120.73L156.90,119.93L157.31,119.14L157.72,118.34L158.13,117.55L158.54,116.76L158.95,115.97L159.35,115.18L159.76,114.40L160.17,113.62L160.58,112.84L160.99,112.06L161.40,111.28L161.81,110.50L162.22,109.73L162.63,108.96L163.03,108.20L163.44,107.43L163.85,106.67L164.26,105.91L164.67,105.15L165.08,104.40L165.49,103.65L165.90,102.90L166.31,102.15L166.72,101.41L167.12,100.67L167.53,99.94L167.94,99.21L168.35,98.48L168.76,97.75L169.17,97.03L169.58,96.31L169.99,95.60L170.40,94.89L170.80,94.18L171.21,93.48L171.62,92.78L172.03,92.08L172.44,91.39L172.85,90.71L173.26,90.02L173.67,89.35L174.08,88.67L174.48,88.00L174.89,87.34L175.30,86.68L175.71,86.02L176.12,85.37L176.53,84.73L176.94,84.09L177.35,83.45L177.76,82.82L178.17,82.19L178.57,81.57L178.98,80.96L179.39,80.35L179.80,79.74L180.21,79.14L180.62,78.55L181.03,77.96L181.44,77.37L181.85,76.80L182.25,76.22L182.66,75.66L183.07,75.10L183.48,74.54L183.89,73.99L184.30,73.45L184.71,72.91L185.12,72.38L185.53,71.86L185.94,71.34L186.34,70.83L186.75,70.32L187.16,69.82L187.57,69.33L187.98,68.84L188.39,68.36L188.80,67.89L189.21,67.42L189.62,66.96L190.02,66.51L190.43,66.06L190.84,65.62L191.25,65.19L191.66,64.76L192.07,64.34L192.48,63.93L192.89,63.53L193.30,63.13L193.70,62.74L194.11,62.35L194.52,61.97L194.93,61.60L195.34,61.24L195.75,60.89L196.16,60.54L196.57,60.20L196.98,59.87L197.39,59.54L197.79,59.22L198.20,58.91L198.61,58.61L199.02,58.31L199.43,58.03L199.84,57.75L200.25,57.47L200.66,57.21L201.07,56.95L201.47,56.70L201.88,56.46L202.29,56.23L202.70,56.00L203.11,55.79L203.52,55.58L203.93,55.37L204.34,55.18L204.75,54.99L205.16,54.82L205.56,54.65L205.97,54.48L206.38,54.33L206.79,54.18L207.20,54.05L207.61,53.92L208.02,53.79L208.43,53.68L208.84,53.57L209.24,53.48L209.65,53.39L210.06,53.31L210.47,53.23L210.88,53.17L211.29,53.11L211.70,53.06L212.11,53.02L212.52,52.99L212.92,52.97L213.33,52.95L213.74,52.95L214.15,52.95L214.56,52.96L214.97,52.97L215.38,53.00L215.79,53.04L216.20,53.08L216.61,53.14L217.01,53.20L217.42,53.27L217.83,53.35L218.24,53.43L218.65,53.53L219.06,53.64L219.47,53.75L219.88,53.87L220.29,54.00L220.69,54.14L221.10,54.29L221.51,54.45L221.92,54.62L222.33,54.79L222.74,54.97L223.15,55.16L223.56,55.36L223.97,55.57L224.38,55.79L224.78,56.01L225.19,56.25L225.60,56.49L226.01,56.74L226.42,57.00L226.83,57.26L227.24,57.54L227.65,57.82L228.06,58.11L228.46,58.41L228.87,58.72L229.28,59.03L229.69,59.36L230.10,59.69L230.51,60.03L230.92,60.38L231.33,60.73L231.74,61.09L232.15,61.46L232.55,61.84L232.96,62.23L233.37,62.62L233.78,63.02L234.19,63.43L234.60,63.85L235.01,64.27L235.42,64.71L235.83,65.15L236.23,65.59L236.64,66.05L237.05,66.51L237.46,66.97L237.87,67.45L238.28,67.93L238.69,68.42L239.10,68.92L239.51,69.42L239.91,69.93L240.32,70.45L240.73,70.97L241.14,71.50L241.55,72.04L241.96,72.58L242.37,73.13L242.78,73.69L243.19,74.25L243.60,74.82L244.00,75.40L244.41,75.98L244.82,76.56L245.23,77.16L245.64,77.76L246.05,78.36L246.46,78.98L246.87,79.59L247.28,80.22L247.68,80.84L248.09,81.48L248.50,82.12L248.91,82.76L249.32,83.42L249.73,84.07L250.14,84.73L250.55,85.40L250.96,86.07L251.37,86.75L251.77,87.43L252.18,88.11L252.59,88.81L253.00,89.50L253.41,90.20L253.82,90.91L254.23,91.62L254.64,92.33L255.05,93.05L255.45,93.77L255.86,94.50L256.27,95.23L256.68,95.97L257.09,96.70L257.50,97.45L257.91,98.19L258.32,98.94L258.73,99.70L259.13,100.46L259.54,101.22L259.95,101.98L260.36,102.75L260.77,103.52L261.18,104.30L261.59,105.07L262.00,105.85L262.41,106.64L262.82,107.42L263.22,108.21L263.63,109.01L264.04,109.80L264.45,110.60L264.86,111.40L265.27,112.20L265.68,113.00L266.09,113.81L266.50,114.62L266.90,115.43L267.31,116.24L267.72,117.05L268.13,117.87L268.54,118.69L268.95,119.51L269.36,120.33L269.77,121.15L270.18,121.98L270.59,122.80L270.99,123.63L271.40,124.46L271.81,125.29L272.22,126.12L272.63,126.95L273.04,127.78L273.45,128.61L273.86,129.44L274.27,130.28L274.67,131.11L275.08,131.95L275.49,132.78L275.90,133.62L276.31,134.45L276.72,135.29L277.13,136.13L277.54,136.96L277.95,137.80L278.35,138.63L278.76,139.47L279.17,140.30L279.58,141.14L279.99,141.97L280.40,142.81L280.81,143.64L281.22,144.47L281.63,145.30L282.04,146.13L282.44,146.96L282.85,147.79L283.26,148.62L283.67,149.45L284.08,150.27L284.49,151.10L284.90,151.92L285.31,152.74L285.72,153.56L286.12,154.38L286.53,155.20L286.94,156.01L287.35,156.83L287.76,157.64L288.17,158.45L288.58,159.26L288.99,160.06L289.40,160.87L289.81,161.67L290.21,162.47L290.62,163.27L291.03,164.06L291.44,164.86L291.85,165.65L292.26,166.43L292.67,167.22L293.08,168.00L293.49,168.78L293.89,169.56L294.30,170.33L294.71,171.11L295.12,171.87L295.53,172.64L295.94,173.40L296.35,174.16L296.76,174.92L297.17,175.67L297.58,176.42L297.98,177.17L298.39,177.91L298.80,178.65L299.21,179.39L299.62,180.12L300.03,180.85L300.44,181.58L300.85,182.30L301.26,183.02L301.66,183.74L302.07,184.45L302.48,185.16L302.89,185.86L303.30,186.56L303.71,187.26L304.12,187.95L304.53,188.64L304.94,189.32L305.34,190.00L305.75,190.68L306.16,191.35L306.57,192.02L306.98,192.68L307.39,193.34L307.80,193.99L308.21,194.64L308.62,195.29L309.03,195.93L309.43,196.57L309.84,197.20L310.25,197.83L310.66,198.45L311.07,199.07L311.48,199.69L311.89,200.30L312.30,200.90L312.71,201.50L313.11,202.10L313.52,202.69L313.93,203.28L314.34,203.86L314.75,204.44L315.16,205.01L315.57,205.58L315.98,206.14L316.39,206.70L316.80,207.25L317.20,207.80L317.61,208.35L318.02,208.89L318.43,209.42L318.84,209.95L319.25,210.47L319.66,210.99L320.07,211.51L320.48,212.02L320.88,212.52L321.29,213.02L321.70,213.51L322.11,214.00L322.52,214.49L322.93,214.97L323.34,215.44L323.75,215.91L324.16,216.37L324.56,216.83L324.97,217.29L325.38,217.74L325.79,218.18L326.20,218.62L326.61,219.05L327.02,219.48L327.43,219.91L327.84,220.33L328.25,220.74L328.65,221.15L329.06,221.55L329.47,221.95L329.88,222.35L330.29,222.73L330.70,223.12L331.11,223.50L331.52,223.87L331.93,224.24L332.33,224.60L332.74,224.96L333.15,225.32L333.56,225.67L333.97,226.01L334.38,226.35L334.79,226.69L335.20,227.02L335.61,227.34L336.02,227.66L336.42,227.98L336.83,228.29L337.24,228.59L337.65,228.89L338.06,229.19L338.47,229.48L338.88,229.77L339.29,230.05L339.70,230.33L340.10,230.60L340.51,230.87L340.92,231.13L341.33,231.39L341.74,231.64L342.15,231.89L342.56,232.14L342.97,232.38L343.38,232.61L343.79,232.85L344.19,233.07L344.60,233.30L345.01,233.52L345.42,233.73L345.83,233.94L346.24,234.15L346.65,234.35L347.06,234.54L347.47,234.74L347.87,234.93L348.28,234.94L348.69,234.84L349.10,234.74L349.51,234.65L349.92,234.56L350.33,234.47L350.74,234.38L351.15,234.29L351.55,234.21L351.96,234.13L352.37,234.05L352.78,233.97L353.19,233.89L353.60,233.82L354.01,233.75L354.42,233.68L354.83,233.61L355.24,233.55L355.64,233.48L356.05,233.42L356.46,233.36L356.87,233.30L357.28,233.25L357.69,233.19L358.10,233.14L358.51,233.09L358.92,233.04L359.32,233.00L359.73,232.95L360.14,232.91L360.55,232.87L360.96,232.83L361.37,232.79L361.78,232.75L362.19,232.72L362.60,232.69L363.01,232.65L363.41,232.62L363.82,232.60L364.23,232.57L364.64,232.54L365.05,232.52L365.46,232.50L365.87,232.48L366.28,232.46L366.69,232.44L367.09,232.42L367.50,232.41L367.91,232.39L368.32,232.38L368.73,232.37L369.14,232.36L369.55,232.35L369.96,232.34L370.37,232.34L370.77,232.33L371.18,232.33L371.59,232.33L372.00,232.33L372.41,232.33L372.82,232.33L373.23,232.33L373.64,232.33L374.05,232.34L374.46,232.34L374.86,232.35L375.27,232.35L375.68,232.36L376.09,232.37L376.50,232.38" stroke="#bc8f8f" stroke-width="1.3" stroke-dasharray="5.243 2.622" stroke-dashoffset="7.58"/>
<path d="M49.35,234.40L49.76,234.40L50.17,234.40L50.58,234.40L50.99,234.40L51.39,234.40L51.80,234.40L52.21,234.40L52.62,234.40L53.03,234.40L53.44,234.40L53.85,234.40L54.26,234.40L54.67,234.40L55.08,234.40L55.48,234.40L55.89,234.40L56.30,234.40L56.71,234.40L57.12,234.40L57.53,234.40L57.94,234.40L58.35,234.40L58.76,234.40L59.16,234.40L59.57,234.40L59.98,234.40L60.39,234.40L60.80,234.40L61.21,234.40L61.62,234.40L62.03,234.40L62.44,234.40L62.84,234.40L63.25,234.40L63.66,234.40L64.07,234.40L64.48,234.40L64.89,234.40L65.30,234.40L65.71,234.40L66.12,234.40L66.53,234.40L66.93,234.40L67.34,234.40L67.75,234.40L68.16,234.40L68.57,234.40L68.98,234.40L69.39,234.40L69.80,234.40L70.21,234.40L70.61,234.40L71.02,234.40L71.43,234.40L71.84,234.40L72.25,234.40L72.66,234.40L73.07,234.40L73.48,234.40L73.89,234.40L74.30,234.40L74.70,234.40L75.11,234.40L75.52,234.40L75.93,234.40L76.34,234.40L76.75,234.40L77.16,234.40L77.57,234.40L77.98,234.40L78.38,234.40L78.79,234.40L79.20,234.40L79.61,234.40L80.02,234.40L80.43,234.40L80.84,234.40L81.25,234.40L81.66,234.40L82.06,234.40L82.47,234.40L82.88,234.40L83.29,234.40L83.70,234.40L84.11,234.40L84.52,234.40L84.93,234.40L85.34,234.40L85.75,234.40L86.15,234.40L86.56,234.40L86.97,234.40L87.38,234.40L87.79,234.40L88.20,234.40L88.61,234.40L89.02,234.40L89.43,234.40L89.83,234.40L90.24,234.40L90.65,234.40L91.06,234.40L91.47,234.40L91.88,234.40L92.29,234.40L92.70,234.40L93.11,234.40L93.52,234.40L93.92,234.40L94.33,234.40L94.74,234.40L95.15,234.40L95.56,234.40L95.97,234.40L96.38,234.40L96.79,234.40L97.20,234.40L97.60,234.40L98.01,234.40L98.42,234.40L98.83,234.40L99.24,234.40L99.65,234.40L100.06,234.40L100.47,234.40L100.88,234.40L101.29,234.40L101.69,234.40L102.10,234.40L102.51,234.40L102.92,234.40L103.33,234.40L103.74,234.40L104.15,234.40L104.56,234.40L104.97,234.40L105.37,234.40L105.78,234.40L106.19,234.40L106.60,234.40L107.01,234.40L107.42,234.40L107.83,234.40L108.24,234.40L108.65,234.40L109.05,234.40L109.46,234.40L109.87,234.40L110.28,234.40L110.69,234.40L111.10,234.40L111.51,234.40L111.92,234.40L112.33,234.40L112.74,234.40L113.14,234.40L113.55,234.40L113.96,234.40L114.37,234.40L114.78,234.40L115.19,234.40L115.60,234.40L116.01,234.40L116.42,234.40L116.82,234.40L117.23,234.40L117.64,234.40L118.05,234.40L118.46,234.40L118.87,234.40L119.28,234.40L119.69,234.40L120.10,234.40L120.51,234.40L120.91,234.40L121.32,234.40L121.73,234.40L122.14,234.40L122.55,234.40L122.96,234.40L123.37,234.40L123.78,234.40L124.19,234.40L124.59,234.40L125.00,234.40L125.41,234.40L125.82,234.40L126.23,234.40L126.64,234.40L127.05,234.40L127.46,234.40L127.87,234.40L128.27,234.40L128.68,234.40L129.09,234.40L129.50,234.40L129.91,234.40L130.32,234.40L130.73,234.40L131.14,234.40L131.55,234.40L131.96,234.40L132.36,234.40L132.77,234.40L133.18,234.40L133.59,234.40L134.00,234.40L134.41,234.40L134.82,234.40L135.23,234.40L135.64,234.40L136.04,234.40L136.45,234.40L136.86,234.40L137.27,234.40L137.68,234.40L138.09,234.40L138.50,234.40L138.91,234.40L139.32,234.40L139.73,234.40L140.13,234.40L140.54,234.40L140.95,234.40L141.36,234.40L141.77,234.40L142.18,234.40L142.59,234.40L143.00,234.40L143.41,234.40L143.81,234.40L144.22,234.40L144.63,234.40L145.04,234.40L145.45,234.40L145.86,234.40L146.27,234.40L146.68,234.40L147.09,234.40L147.50,234.40L147.90,234.40L148.31,234.40L148.72,234.40L149.13,234.40L149.54,234.40L149.95,234.40L150.36,234.40L150.77,234.40L151.18,234.40L151.58,234.40L151.99,234.40L152.40,234.40L152.81,234.40L153.22,234.40L153.63,234.40L154.04,234.40L154.45,234.40L154.86,234.40L155.26,234.40L155.67,234.40L156.08,234.40L156.49,234.40L156.90,234.40L157.31,234.40L157.72,234.40L158.13,234.40L158.54,234.40L158.95,234.40L159.35,234.40L159.76,234.40L160.17,234.40L160.58,234.40L160.99,234.40L161.40,234.40L161.81,234.40L162.22,234.40L162.63,234.40L163.03,234.40L163.44,234.40L163.85,234.40L164.26,234.40L164.67,234.40L165.08,234.40L165.49,234.40L165.90,234.40L166.31,234.40L166.72,234.40L167.12,234.40L167.53,234.40L167.94,234.40L168.35,234.40L168.76,234.40L169.17,234.40L169.58,234.40L169.99,234.40L170.40,234.40L170.80,234.40L171.21,234.40L171.62,234.40L172.03,234.40L172.44,234.40L172.85,234.40L173.26,234.40L173.67,234.40L174.08,234.40L174.48,234.40L174.89,234.40L175.30,234.40L175.71,234.40L176.12,234.40L176.53,234.40L176.94,234.40L177.35,234.40L177.76,234.40L178.17,234.40L178.57,234.40L178.98,234.40L179.39,234.40L179.80,234.40L180.21,234.40L180.62,234.40L181.03,234.40L181.44,234.40L181.85,234.40L182.25,234.40L182.66,234.40L183.07,234.40L183.48,234.40L183.89,234.40L184.30,234.40L184.71,234.40L185.12,234.40L185.53,234.40L185.94,234.40L186.34,234.40L186.75,234.40L187.16,234.40L187.57,234.40L187.98,234.40L188.39,234.40L188.80,234.40L189.21,234.40L189.62,234.40L190.02,234.40L190.43,234.40L190.84,234.40L191.25,234.40L191.66,234.40L192.07,234.40L192.48,234.40L192.89,234.40L193.30,234.40L193.70,234.40L194.11,234.40L194.52,234.40L194.93,234.40L195.34,234.40L195.75,234.40L196.16,234.40L196.57,234.40L196.98,234.40L197.39,234.40L197.79,234.40L198.20,234.40L198.61,234.40L199.02,234.40L199.43,234.40L199.84,234.40L200.25,234.40L200.66,234.40L201.07,234.40L201.47,234.40L201.88,234.40L202.29,234.40L202.70,234.40L203.11,234.40L203.52,234.40L203.93,234.40L204.34,234.40L204.75,234.40L205.16,234.40L205.56,234.40L205.97,234.40L206.38,234.40L206.79,234.40L207.20,234.40L207.61,234.40L208.02,234.40L208.43,234.40L208.84,234.40L209.24,234.40L209.65,234.40L210.06,234.40L210.47,234.40L210.88,234.40L211.29,234.40L211.70,234.40L212.11,234.40L212.52,234.40L212.92,234.40L213.33,234.40L213.74,234.40L214.15,234.40L214.56,234.40L214.97,234.40L215.38,234.40L215.79,234.40L216.20,234.40L216.61,234.40L217.01,234.40L217.42,234.40L217.83,234.40L218.24,234.40L218.65,234.40L219.06,234.40L219.47,234.40L219.88,234.40L220.29,234.40L220.69,234.40L221.10,234.40L221.51,234.40L221.92,234.40L222.33,234.40L222.74,234.40L223.15,234.40L223.56,234.40L223.97,234.40L224.38,234.40L224.78,234.40L225.19,234.40L225.60,234.40L226.01,234.40L226.42,234.40L226.83,234.40L227.24,234.40L227.65,234.40L228.06,234.40L228.46,234.40L228.87,234.40L229.28,234.40L229.69,234.40L230.10,234.40L230.51,234.40L230.92,234.40L231.33,234.40L231.74,234.40L232.15,234.40L232.55,234.40L232.96,234.40L233.37,234.40L233.78,234.40L234.19,234.40L234.60,234.40L235.01,234.40L235.42,234.40L235.83,234.40L236.23,234.40L236.64,234.40L237.05,234.40L237.46,234.40L237.87,234.40L238.28,234.40L238.69,234.40L239.10,234.40L239.51,234.40L239.91,234.40L240.32,234.40L240.73,234.40L241.14,234.40L241.55,234.40L241.96,234.40L242.37,234.40L242.78,234.40L243.19,234.40L243.60,234.40L244.00,234.40L244.41,234.40L244.82,234.40L245.23,234.40L245.64,234.40L246.05,234.40L246.46,234.40L246.87,234.40L247.28,234.40L247.68,234.40L248.09,234.40L248.50,234.40L248.91,234.40L249.32,234.40L249.73,234.40L250.14,234.40L250.55,234.40L250.96,234.40L251.37,234.40L251.77,234.40L252.18,234.40L252.59,234.40L253.00,234.40L253.41,234.40L253.82,234.40L254.23,234.40L254.64,234.40L255.05,234.40L255.45,234.40L255.86,234.40L256.27,234.40L256.68,234.40L257.09,234.40L257.50,234.40L257.91,234.40L258.32,234.40L258.73,234.40L259.13,234.40L259.54,234.40L259.95,234.40L260.36,234.40L260.77,234.40L261.18,234.40L261.59,234.40L262.00,234.40L262.41,234.40L262.82,234.40L263.22,234.40L263.63,234.40L264.04,234.40L264.45,234.40L264.86,234.40L265.27,234.40L265.68,234.40L266.09,234.40L266.50,234.40L266.90,234.40L267.31,234.40L267.72,234.40L268.13,234.40L268.54,234.40L268.95,234.40L269.36,234.40L269.77,234.40L270.18,234.40L270.59,234.40L270.99,234.40L271.40,234.40L271.81,234.40L272.22,234.40L272.63,234.40L273.04,234.40L273.45,234.40L273.86,234.40L274.27,234.40L274.67,234.40L275.08,234.40L275.49,234.40L275.90,234.40L276.31,234.40L276.72,234.40L277.13,234.40L277.54,234.40L277.95,234.40L278.35,234.40L278.76,234.40L279.17,234.40L279.58,234.40L279.99,234.40L280.40,234.40L280.81,234.40L281.22,234.40L281.63,234.40L282.04,234.40L282.44,234.40L282.85,234.40L283.26,234.40L283.67,234.40L284.08,234.40L284.49,234.40L284.90,234.40L285.31,234.40L285.72,234.40L286.12,234.40L286.53,234.40L286.94,234.40L287.35,234.40L287.76,234.40L288.17,234.40L288.58,234.40L288.99,234.40L289.40,234.40L289.81,234.40L290.21,234.40L290.62,234.40L291.03,234.40L291.44,234.40L291.85,234.40L292.26,234.40L292.67,234.40L293.08,234.40L293.49,234.40L293.89,234.40L294.30,234.40L294.71,234.40L295.12,234.40L295.53,234.40L295.94,234.40L296.35,234.40L296.76,234.40L297.17,234.40L297.58,234.40L297.98,234.40L298.39,234.40L298.80,234.40L299.21,234.40L299.62,234.40L300.03,234.40L300.44,234.40L300.85,234.40L301.26,234.40L301.66,234.40L302.07,234.40L302.48,234.40L302.89,234.40L303.30,234.40L303.71,234.40L304.12,234.40L304.53,234.40L304.94,234.40L305.34,234.40L305.75,234.40L306.16,234.40L306.57,234.40L306.98,234.40L307.39,234.40L307.80,234.40L308.21,234.40L308.62,234.40L309.03,234.40L309.43,234.40L309.84,234.40L310.25,234.40L310.66,234.40L311.07,234.40L311.48,234.40L311.89,234.40L312.30,234.40L312.71,234.40L313.11,234.40L313.52,234.40L313.93,234.40L314.34,234.40L314.75,234.40L315.16,234.40L315.57,234.40L315.98,234.40L316.39,234.40L316.80,234.40L317.20,234.40L317.61,234.40L318.02,234.40L318.43,234.40L318.84,234.40L319.25,234.40L319.66,234.40L320.07,234.40L320.48,234.40L320.88,234.40L321.29,234.40L321.70,234.40L322.11,234.40L322.52,234.40L322.93,234.40L323.34,234.40L323.75,234.40L324.16,234.40L324.56,234.40L324.97,234.40L325.38,234.40L325.79,234.40L326.20,234.40L326.61,234.40L327.02,234.40L327.43,234.40L327.84,234.40L328.25,234.40L328.65,234.40L329.06,234.40L329.47,234.40L329.88,234.40L330.29,234.40L330.70,234.40L331.11,234.40L331.52,234.40L331.93,234.40L332.33,234.40L332.74,234.40L333.15,234.40L333.56,234.40L333.97,234.40L334.38,234.40L334.79,234.40L335.20,234.40L335.61,234.40L336.02,234.40L336.42,234.40L336.83,234.40L337.24,234.40L337.65,234.40L338.06,234.40L338.47,234.40L338.88,234.40L339.29,234.40L339.70,234.40L340.10,234.40L340.51,234.40L340.92,234.40L341.33,234.40L341.74,234.40L342.15,234.40L342.56,234.40L342.97,234.40L343.38,234.40L343.79,234.40L344.19,234.40L344.60,234.40L345.01,234.40L345.42,234.40L345.83,234.40L346.24,234.40L346.65,234.40L347.06,234.40L347.47,234.40L347.87,234.40L348.28,234.40L348.69,234.40L349.10,234.40L349.51,234.40L349.92,234.40L350.33,234.40L350.74,234.40L351.15,234.40L351.55,234.40L351.96,234.40L352.37,234.40L352.78,234.40L353.19,234.40L353.60,234.40L354.01,234.40L354.42,234.40L354.83,234.40L355.24,234.40L355.64,234.40L356.05,234.40L356.46,234.40L356.87,234.40L357.28,234.40L357.69,234.40L358.10,234.40L358.51,234.40L358.92,234.40L359.32,234.40L359.73,234.40L360.14,234.40L360.55,234.40L360.96,234.40L361.37,234.40L361.78,234.40L362.19,234.40L362.60,234.40L363.01,234.40L363.41,234.40L363.82,234.40L364.23,234.40L364.64,234.40L365.05,234.40L365.46,234.40L365.87,234.40L366.28,234.40L366.69,234.40L367.09,234.40L367.50,234.40L367.91,234.40L368.32,234.40L368.73,234.40L369.14,234.40L369.55,234.40L369.96,234.40L370.37,234.40L370.77,234.40L371.18,234.40L371.59,234.40L372.00,234.40L372.41,234.40L372.82,234.40L373.23,234.40L373.64,234.40L374.05,234.40L374.46,234.40L374.86,234.40L375.27,234.40L375.68,234.40L376.09,234.40L376.50,234.40" stroke="#f80000" stroke-width="1.7" stroke-dasharray="1.9 3.99" stroke-dashoffset="0.35"/>
</g>
<rect x="301.4" y="22.2" width="49.90" height="66.20" fill="#fff" stroke="#000" stroke-width="0.8"/>
<g fill="none">
<path d="M305.2,30.2H331.3" stroke="#000" stroke-width="1.5"/>
<path d="M305.2,42.85H331.3" stroke="#00ff00" stroke-width="2.2"/>
<path d="M305.2,55.5H331.3" stroke="#0000ff" stroke-width="1.6" stroke-dasharray="6.4 3.35"/>
<path d="M305.2,68.2H331.3" stroke="#b88888" stroke-width="1.45" stroke-dasharray="5.3 2.65"/>
<path d="M305.2,80.6H331.3" stroke="#ff0000" stroke-width="1.5" stroke-dasharray="1.7 4.17"/>
</g>
<g font-family="Liberation Serif, serif" font-size="14" fill="#000" stroke="#000" stroke-width="0.18">
<text x="338.0" y="35.40">A</text>
<text x="338.0" y="48.05">B</text>
<text x="338.0" y="60.70">C</text>
<text x="338.0" y="73.40">D</text>
<text x="338.0" y="85.80">E</text>
<text x="82.36" y="248" text-anchor="middle">560</text>
<text x="147.80" y="248" text-anchor="middle">580</text>
<text x="213.22" y="248" text-anchor="middle">600</text>
<text x="278.65" y="248" text-anchor="middle">620</text>
<text x="344.09" y="248" text-anchor="middle">640</text>
<text x="46.7" y="239.90" text-anchor="end" font-size="14">0</text>
<text x="46.7" y="194.10" text-anchor="end" font-size="14">0.1</text>
<text x="46.7" y="148.30" text-anchor="end" font-size="14">0.2</text>
<text x="46.7" y="102.50" text-anchor="end" font-size="14">0.3</text>
<text x="46.7" y="56.70" text-anchor="end" font-size="14">0.4</text>
<text x="46.7" y="10.90" text-anchor="end" font-size="14">0.5</text>
</g>
<g font-family="Liberation Serif, serif" fill="#000" stroke="#000" stroke-width="0.28">
<text x="163.8" y="264.1" font-size="18.5" textLength="91.6" lengthAdjust="spacingAndGlyphs">frequency/B</text>
<text x="255.9" y="272.3" font-size="14">0</text>
<g transform="rotate(-90)">
<text x="-203.2" y="17.9" font-size="17.8" textLength="41.7" lengthAdjust="spacingAndGlyphs">FT of</text>
<text x="-147.2" y="19.2" font-size="18.5" font-family="Liberation Sans, sans-serif" stroke="#000" stroke-width="0.55">σ</text>
<text x="-135.4" y="26" font-size="14" font-style="italic" textLength="11.3" lengthAdjust="spacingAndGlyphs">zz</text>
<text x="-119.5" y="17.9" font-size="17.8" textLength="82.4" lengthAdjust="spacingAndGlyphs">(arb. units)</text>
</g>
<path d="M1.55,135.5V147.4" stroke="#000" stroke-width="1.1" fill="none"/>
</g>
</g>
</svg>
</body></html>
